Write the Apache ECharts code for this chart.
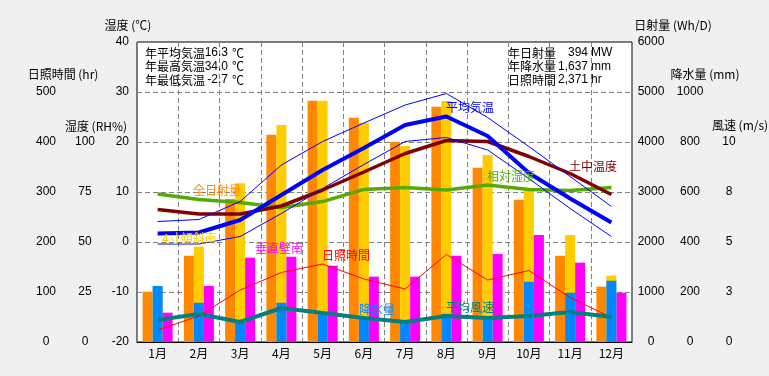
<!DOCTYPE html>
<html lang="ja" style="height: 100%">
<head>
    <meta charset="utf-8">
</head>
<body style="height: 100%; margin: 0; background: #f0f0f0">
    <div id="container" style="width: 769px; height: 376px"></div>
    <script type="text/javascript" src="https://fastly.jsdelivr.net/npm/echarts@6.0.0/dist/echarts.min.js"></script>
    <script type="text/javascript">
    // 月別データ
    const months = ['1月', '2月', '3月', '4月', '5月', '6月', '7月', '8月', '9月', '10月', '11月', '12月'];

    // 日射量 (Wh/D)
    const radAll = [1007, 1727, 2860, 4147, 4827, 4487, 4000, 4707, 3487, 2847, 1727, 1107];
    const radTilt = [1100, 1907, 3173, 4340, 4827, 4387, 3920, 4820, 3740, 3040, 2140, 1327];
    const radWall = [587, 1120, 1687, 1707, 1527, 1307, 1307, 1727, 1760, 2140, 1587, 987];
    // 降水量 (mm)
    const precip = [224, 157, 88, 157, 117, 99, 81, 113, 104, 241, 197, 245];

    // 気温 (℃)
    const tempAvg = [1.7, 1.9, 4.4, 9.4, 14.4, 18.8, 23.4, 25.1, 21.2, 13.8, 8.7, 3.9];
    const tempMax = [4.1, 4.5, 8.1, 15.4, 20.1, 23.8, 27.4, 29.7, 24.9, 19.1, 13.1, 7.1];
    const tempMin = [-0.4, -0.4, 1.1, 5.7, 10.7, 15.5, 20.1, 20.9, 18.4, 12.7, 6.7, 1.1];
    const soilTemp = [6.5, 5.6, 5.6, 7.2, 10.4, 14.0, 17.7, 20.3, 20.1, 17.1, 13.7, 9.5];
    // 相対湿度 (RH%)
    const humidity = [74, 71.3, 69.7, 67.2, 70.2, 76.3, 77.2, 76, 78.5, 76.3, 75.7, 77.2];
    // 日照時間 (hr)
    const sunshine = [24, 52, 104, 139, 156, 126, 106, 175, 124, 143, 89, 49];
    // 平均風速 (m/s)
    const wind = [1.1, 1.4, 1.0, 1.7, 1.45, 1.2, 1.0, 1.3, 1.2, 1.3, 1.5, 1.25];

    // 年間の値
    const summaryLeft = [['年平均気温', '16.3', '℃'], ['年最高気温', '34.0', '℃'], ['年最低気温', '-2.7', '℃']];
    const summaryRight = [['年日射量', '394', 'MW'], ['年降水量', '1,637', 'mm'], ['日照時間', '2,371', 'hr']];

    const cjk = "'Noto Sans CJK JP', sans-serif";
    const num = "'Liberation Sans Narrow', 'Liberation Sans', sans-serif";

    var dom = document.getElementById('container');
    var myChart = echarts.init(dom, null, { renderer: 'canvas' });

    function txt(text, x, y, color, align, family) {
        return {
            type: 'text', z: 100,
            style: {
                text: text, x: x, y: y, fill: color || '#000',
                font: '12px ' + (family || cjk),
                textAlign: align || 'left', textVerticalAlign: 'middle'
            }
        };
    }

    const graphics = [];
    summaryLeft.forEach((r, i) => {
        const y = 53 + i * 13.5;
        graphics.push(txt(r[0], 145, y), txt(r[1], 228, y, '#000', 'right', num), txt(r[2], 232, y));
    });
    summaryRight.forEach((r, i) => {
        const y = 53 + i * 13.5;
        graphics.push(txt(r[0], 508, y), txt(r[1], 588, y, '#000', 'right', num), txt(r[2], 591, y, '#000', 'left', num));
    });
    // 軸タイトル
    graphics.push(
        txt('湿度 (℃)', 128, 25, '#000', 'center'),
        txt('日照時間 (hr)', 63, 74, '#000', 'center'),
        txt('湿度 (RH%)', 96, 126, '#000', 'center'),
        txt('日射量 (Wh/D)', 673, 25, '#000', 'center'),
        txt('降水量 (mm)', 705, 74, '#000', 'center'),
        txt('風速 (m/s)', 740, 125, '#000', 'center')
    );
    // 系列名
    graphics.push(
        txt('全日射量', 193, 190, '#ff8800'),
        txt('4寸傾斜南', 162, 238, '#ffcc00'),
        txt('垂直壁南', 255, 248, '#ff00ff'),
        txt('日照時間', 322, 255, '#ff0000'),
        txt('降水量', 359, 309, '#0088ff'),
        txt('平均風速', 446, 307, '#008080'),
        txt('平均気温', 446, 107, '#0000ff'),
        txt('相対湿度', 487, 176, '#55aa00'),
        txt('土中温度', 569, 166, '#800000')
    );

    const dash = { color: '#808080', width: 1, type: [5, 3] };

    function valAxis(pos, min, max, interval, margin, align, fmt, extra) {
        return Object.assign({
            type: 'value', position: pos, min: min, max: max, interval: interval,
            axisLine: { show: false }, axisTick: { show: false }, splitLine: { show: false },
            axisLabel: {
                margin: margin, align: align, color: '#000',
                fontSize: 12, fontFamily: num, formatter: fmt
            }
        }, extra || {});
    }

    const option = {
        animation: false,
        backgroundColor: '#f0f0f0',
        grid: {
            left: 137, right: 137, top: 42, bottom: 34,
            show: true, backgroundColor: '#fff', borderColor: '#000', borderWidth: 1,
            outerBoundsMode: 'none'
        },
        graphic: graphics,
        xAxis: [{
            type: 'category', data: months,
            axisLine: { onZero: false, lineStyle: { color: '#000' } },
            axisTick: { show: false },
            axisLabel: { interval: 0, color: '#000', fontSize: 12, fontFamily: cjk, margin: 5 },
            splitLine: { show: true, interval: 0, lineStyle: dash }
        }, {
            type: 'category', data: months, show: false,
            axisLine: { onZero: false }
        }],
        yAxis: [
            valAxis('left', -20, 40, 10, 8, 'right', v => v, { splitLine: { show: true, lineStyle: dash } }),
            valAxis('left', 0, 150, 25, 52, 'center', v => v > 100 ? '' : v),
            valAxis('left', 0, 600, 100, 91, 'center', v => v > 500 ? '' : v),
            valAxis('right', 0, 6000, 1000, 19, 'center', v => v),
            valAxis('right', 0, 1200, 200, 58, 'center', v => v > 1000 ? '' : v),
            valAxis('right', 0, 15, 2.5, 97, 'center', v => v > 10 ? '' : Math.round(v))
        ],
        series: [
            { name: '全日射量', type: 'bar', xAxisIndex: 0, yAxisIndex: 3, data: radAll,
              barWidth: 10, barGap: '0%', itemStyle: { color: '#ff8800' } },
            { name: '4寸傾斜南', type: 'bar', xAxisIndex: 0, yAxisIndex: 3, data: radTilt,
              barWidth: 10, barGap: '0%', itemStyle: { color: '#ffcc00' } },
            { name: '垂直壁南', type: 'bar', xAxisIndex: 0, yAxisIndex: 3, data: radWall,
              barWidth: 10, barGap: '0%', itemStyle: { color: '#ff00ff' } },
            { name: '降水量', type: 'bar', xAxisIndex: 1, yAxisIndex: 4, data: precip,
              barWidth: 10, itemStyle: { color: '#0088ff' } },

            { name: '相対湿度', type: 'line', yAxisIndex: 1, data: humidity, symbol: 'none',
              lineStyle: { color: '#55aa00', width: 3.5 } },
            { name: '土中温度', type: 'line', yAxisIndex: 0, data: soilTemp, symbol: 'none',
              lineStyle: { color: '#800000', width: 3.5 } },
            { name: '最高気温', type: 'line', yAxisIndex: 0, data: tempMax, symbol: 'none',
              lineStyle: { color: '#0000ff', width: 1 } },
            { name: '最低気温', type: 'line', yAxisIndex: 0, data: tempMin, symbol: 'none',
              lineStyle: { color: '#0000ff', width: 1 } },
            { name: '平均気温', type: 'line', yAxisIndex: 0, data: tempAvg, symbol: 'none',
              lineStyle: { color: '#0000ff', width: 4 } },
            { name: '日照時間', type: 'line', yAxisIndex: 2, data: sunshine, symbol: 'none',
              lineStyle: { color: '#ff0000', width: 1 } },
            { name: '平均風速', type: 'line', yAxisIndex: 5, data: wind, symbol: 'none',
              lineStyle: { color: '#008080', width: 4 } }
        ]
    };

    myChart.setOption(option);
    window.addEventListener('resize', myChart.resize);
    </script>
</body>
</html>
